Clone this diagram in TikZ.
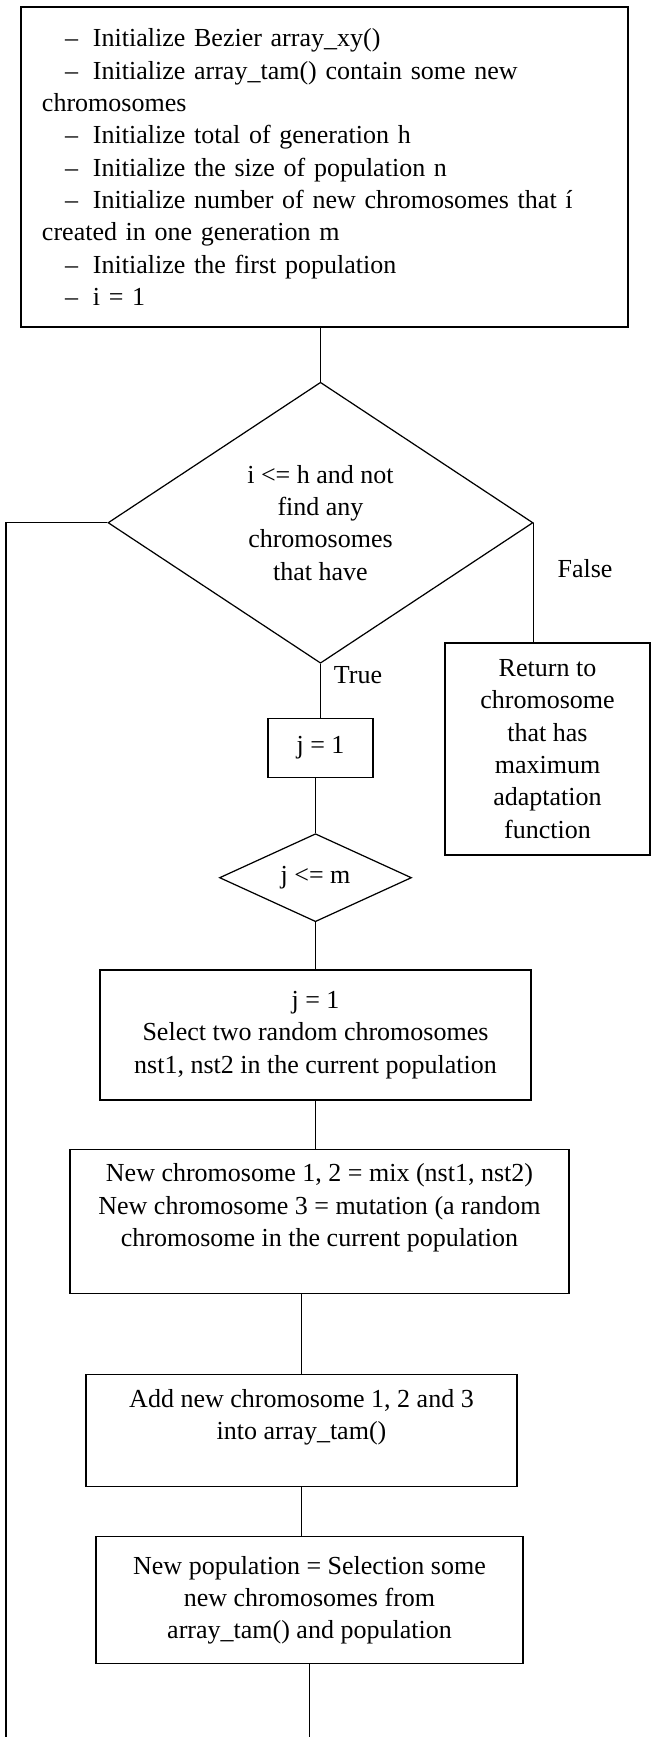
\documentclass[tikz,border=0pt]{standalone}
\usepackage{fontspec}
\setmainfont{Liberation Serif}
\usetikzlibrary{positioning, shapes}

\newcommand{\initdash}{\hspace*{0.46cm}–\hspace{0.3cm}}

\begin{document}
\begin{tikzpicture}[line width=0.7pt, font=\fontsize{14.8}{18.4}\selectfont]
    \tikzstyle{process} = [draw, rectangle, align=center, inner sep=0pt];
    \tikzstyle{decision} = [draw, diamond, align=center, inner sep=0pt, aspect=1.5];
    \tikzstyle{tag} = [inner sep=0pt];

    \useasboundingbox (0, 0) rectangle (13.08, -34.74);

    \node[process, align=left, minimum width=12.14cm, minimum height=6.4cm, text width=11.3cm] (init) at (6.49, -3.34) {
        \initdash Initialize Bezier array\_xy()\\
        \initdash Initialize array\_tam() contain some new\\
        chromosomes\\
        \initdash Initialize total of generation h\\
        \initdash Initialize the size of population n\\
        \initdash Initialize number of new chromosomes that í\\
        created in one generation m\\
        \initdash Initialize the first population\\
        \initdash i = 1};

    \node[decision, minimum width=8.5cm, minimum height=5.62cm, below=1.08cm of init, xshift=-0.08cm] (cond) {i <= h and not\\ find any\\ chromosomes\\ that have};
    \node[process, minimum width=2.1cm, minimum height=1.18cm, below=1.08cm of cond] (j1) {j = 1};
    \node[decision, aspect=2, minimum width=3.84cm, minimum height=1.76cm, below=1.1cm of j1, xshift=-0.1cm] (jcheck) {j <= m};

    \node[process, minimum width=8.62cm, minimum height=2.6cm, below=0.94cm of jcheck] (select) {j = 1\\ Select two random chromosomes\\ nst1, nst2 in the current population};
    \node[process, minimum width=9.98cm, minimum height=2.88cm, below=0.96cm of select, xshift=0.08cm] (mix) {New chromosome 1, 2 = mix (nst1, nst2)\\ New chromosome 3 = mutation (a random\\ chromosome in the current population\\ \mbox{}};
    \node[process, minimum width=8.62cm, minimum height=2.24cm, below=1.6cm of mix, xshift=-0.36cm] (add) {Add new chromosome 1, 2 and 3\\ into array\_tam()\\ \mbox{}};
    \node[process, minimum width=8.54cm, minimum height=2.54cm, below=0.98cm of add, xshift=0.16cm] (newpop) {New population = Selection some\\ new chromosomes from\\ array\_tam() and population};

    \node[process, minimum width=4.1cm, minimum height=4.24cm] (result) at (10.95, -14.98) {Return to\\ chromosome\\ that has\\ maximum\\ adaptation\\ function};

    \node[tag] (truelbl) at (7.16, -13.5) {True};
    \node[tag] (falselbl) at (11.7, -11.38) {False};

    \coordinate (back) at (0.12, -34.74);

    \draw (cond.north) -- (cond.north |- init.south);
    \draw (cond.south) -- (cond.south |- j1.north);
    \draw (jcheck.north) -- (jcheck.north |- j1.south);
    \draw (jcheck.south) -- (jcheck.south |- select.north);
    \draw (select.south) -- (select.south |- mix.north);
    \draw (add.north) -- (add.north |- mix.south);
    \draw (add.south) -- (add.south |- newpop.north);
    \draw (newpop.south) -- (newpop.south |- back);

    \draw (cond.east) -- (cond.east |- result.north);
    \draw (cond.west) -| (back);
\end{tikzpicture}
\end{document}
